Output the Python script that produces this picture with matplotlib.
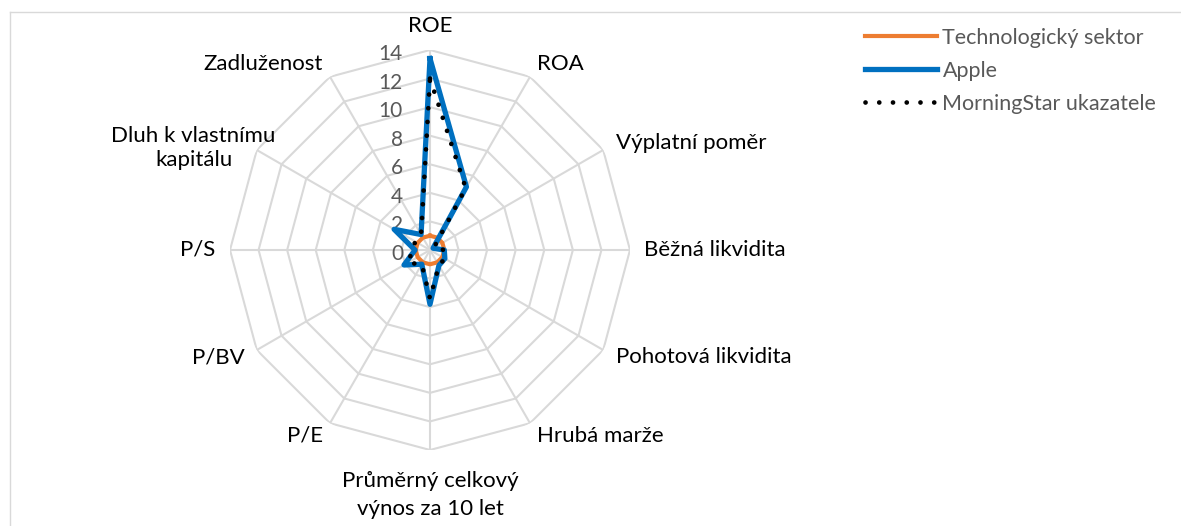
import numpy as np
import matplotlib
matplotlib.use("Agg")
import matplotlib.pyplot as plt
from matplotlib.lines import Line2D

plt.rcParams['font.family'] = ['Lato', 'DejaVu Sans']

categories = ["ROE", "ROA", "Výplatní poměr", "Běžná likvidita", "Pohotová likvidita",
              "Hrubá marže", "Průměrný celkový\nvýnos za 10 let", "P/E", "P/BV", "P/S",
              "Dluh k vlastnímu\nkapitálu", "Zadluženost"]
sektor = [1, 1, 1, 1, 1, 1, 1, 1, 1, 1, 1, 1]
apple = [13.4, 5.1, 0.25, 1.0, 1.2, 1.25, 3.8, 1.15, 2.1, 1.05, 2.9, 1.25]
morningstar = [12.0, 5.0, 0.3, 1.0, 1.2, 1.25, 3.4, 1.15, 1.8, 1.2, 1.2, 1.25]
ticks = [0, 2, 4, 6, 8, 10, 12, 14]

W, H = 1181, 526
fig = plt.figure(figsize=(W / 100, H / 100), dpi=100)
cx, cy, R = 430, 250, 200
ax = fig.add_axes([(cx - R) / W, (H - cy - R) / H, 2 * R / W, 2 * R / H], projection='polar')
ax.set_theta_zero_location('N')
ax.set_theta_direction(-1)
ax.set_ylim(0, 14)
ax.grid(False)
ax.spines['polar'].set_visible(False)
ax.set_xticks([])
ax.set_yticks([])
ax.patch.set_alpha(0)

n = len(categories)
ang = np.linspace(0, 2 * np.pi, n, endpoint=False)
closed = np.append(ang, ang[0])

grid_c = '#D9D9D9'
for t in ticks[1:]:
    ax.plot(closed, [t] * (n + 1), color=grid_c, lw=1.5, zorder=1)
for a in ang:
    ax.plot([a, a], [0, 14], color=grid_c, lw=1.5, zorder=1)

def close(v):
    return list(v) + [v[0]]

ax.plot(closed, close(sektor), color='#ED7D31', lw=3.0, zorder=3, label='Technologický sektor',
        solid_joinstyle='round')
ax.plot(closed, close(apple), color='#0070C0', lw=3.8, zorder=4, label='Apple',
        solid_joinstyle='round')
ax.plot(closed, close(morningstar), color='black', lw=3.4, zorder=5, label='MorningStar ukazatele',
        linestyle=(0, (0.01, 2.9)), dash_capstyle='round')

for t in ticks:
    ax.annotate(str(t), xy=(0, t), xytext=(-27, -4), textcoords='offset pixels',
                ha='right', va='center', fontsize=15, color='#595959', zorder=2)

for a, lab in zip(ang, categories):
    s = np.sin(a)
    c = np.cos(a)
    r = 15.0
    ha = 'left' if s > 0.1 else ('right' if s < -0.1 else 'center')
    va = 'center'
    if abs(s) < 0.1:
        va = 'bottom' if c > 0 else 'top'
    if lab.startswith("Dluh"):
        ax.annotate(lab, xy=(a, 14), xytext=(19, 2), textcoords='offset pixels',
                    ha='right', va='center', fontsize=16, multialignment='center',
                    linespacing=1.3)
        continue
    if c < -0.9:
        ax.text(a, 15.5, lab, ha=ha, va=va, fontsize=16, color='black', linespacing=1.45)
        continue
    ax.text(a, r, lab, ha=ha, va=va, fontsize=16, color='black', linespacing=1.25)

leg = fig.legend(loc='upper left', bbox_to_anchor=(865 / W, 1 - 28 / H), frameon=False,
                 fontsize=15.5, handlelength=3.35, handletextpad=0.25, labelspacing=0.6,
                 borderaxespad=0, borderpad=0)
for txt in leg.get_texts():
    txt.set_color('#595959')

fig.add_artist(Line2D([10 / W, 1], [1 - 12 / H, 1 - 12 / H], color=grid_c, lw=1.0))
fig.add_artist(Line2D([10 / W, 10 / W], [0, 1 - 12 / H], color=grid_c, lw=1.0))

fig.savefig('out.png', dpi=100)
